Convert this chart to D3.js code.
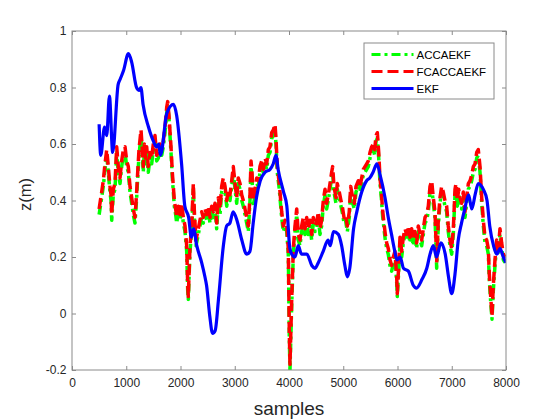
<!DOCTYPE html>
<html>
<head>
<meta charset="utf-8">
<script src="https://cdn.jsdelivr.net/npm/d3@7"></script>
<style>
html,body{margin:0;padding:0;background:#fff;}
svg{display:block;}
</style>
</head>
<body>
<svg id="chart" width="560" height="420"></svg>
<script>
// ---------- data ----------
const xTickValues = [0,1000,2000,3000,4000,5000,6000,7000,8000];
const xTickLabels = ["0","1000","2000","3000","4000","5000","6000","7000","8000"];
const yTickValues = [-0.2,0,0.2,0.4,0.6,0.8,1];
const yTickLabels = ["-0.2","0","0.2","0.4","0.6","0.8","1"];
const seriesNames = ["ACCAEKF","FCACCAEKF","EKF"];
const xLabel = "samples";
const yLabel = "z(m)";

const filterSamples = [
500,547,577,608,640,669,700,719,732,761,
793,824,853,885,916,946,977,1008,1038,1069,
1100,1130,1161,1189,1211,1235,1272,1296,1314,1333,
1355,1377,1406,1438,1469,1499,1530,1561,1591,1622,
1653,1683,1714,1746,1764,1788,1825,1849,1886,1911,
1930,1959,1991,2022,2052,2083,2114,2133,2144,2175,
2206,2236,2258,2286,2328,2359,2391,2420,2452,2483,
2513,2544,2575,2605,2636,2667,2697,2728,2759,2789,
2821,2852,2881,2912,2944,2973,3005,3036,3065,3097,
3128,3158,3189,3220,3250,3281,3300,3318,3342,3373,
3405,3434,3465,3496,3527,3558,3589,3619,3650,3681,
3711,3742,3760,3784,3821,3847,3865,3895,3927,3958,
3987,4006,4018,4050,4080,4111,4142,4171,4203,4234,
4264,4295,4326,4355,4387,4418,4448,4479,4510,4540,
4571,4602,4632,4664,4694,4724,4756,4786,4805,4829,
4866,4890,4927,4958,4990,5014,5042,5075,5111,5137,
5174,5204,5235,5278,5309,5340,5370,5401,5432,5462,
5493,5524,5554,5580,5604,5628,5654,5677,5702,5728,
5751,5775,5801,5830,5861,5893,5923,5954,5985,5996,
6022,6046,6077,6107,6138,6169,6199,6230,6261,6291,
6322,6353,6383,6415,6446,6476,6507,6538,6568,6599,
6630,6660,6691,6709,6722,6752,6783,6814,6844,6875,
6906,6936,6968,6999,7029,7060,7078,7103,7128,7152,
7183,7213,7244,7275,7306,7337,7368,7398,7429,7460,
7489,7521,7552,7582,7613,7644,7674,7692,7718,7742,
7766,7797,7828,7858,7889,7920,7951,7982
];

const accaekf = [
.35,.41,.45,.51,.56,.50,.43,.40,.33,.42,
.44,.57,.50,.46,.52,.56,.57,.52,.50,.43,
.39,.35,.32,.40,.48,.56,.63,.56,.50,.58,
.53,.57,.50,.55,.53,.58,.61,.54,.55,.58,
.56,.59,.64,.71,.74,.69,.57,.48,.38,.35,
.32,.36,.33,.37,.32,.29,.22,.08,.05,.22,
.29,.44,.33,.24,.28,.31,.34,.32,.35,.33,
.36,.32,.36,.34,.37,.30,.39,.35,.43,.46,
.43,.38,.42,.40,.45,.50,.44,.39,.46,.44,
.40,.38,.35,.32,.29,.40,.52,.48,.38,.42,
.46,.45,.50,.52,.49,.53,.51,.56,.57,.62,
.63,.65,.60,.50,.44,.38,.34,.29,.31,.29,
.21,-.09,-.20,.03,.21,.29,.35,.26,.24,.29,
.32,.28,.32,.28,.31,.26,.32,.29,.30,.34,
.28,.31,.38,.42,.37,.40,.44,.48,.50,.43,
.39,.44,.41,.38,.35,.32,.33,.29,.34,.43,
.39,.37,.43,.45,.43,.46,.49,.50,.51,.52,
.55,.57,.58,.56,.61,.62,.55,.46,.41,.34,
.30,.26,.23,.21,.17,.15,.18,.20,.11,.06,
.15,.25,.20,.25,.28,.26,.29,.25,.28,.24,
.27,.23,.29,.26,.24,.28,.32,.33,.36,.43,
.45,.39,.34,.24,.16,.31,.39,.43,.41,.38,
.36,.29,.24,.21,.28,.42,.44,.38,.42,.39,
.37,.41,.34,.39,.44,.45,.47,.50,.51,.55,
.56,.50,.39,.31,.25,.24,.21,.12,.04,-.02,
.08,.17,.24,.21,.28,.23,.19,.18
];

const fcaccaekf = [
.37,.43,.47,.53,.58,.52,.45,.42,.35,.44,
.46,.59,.52,.48,.54,.58,.59,.54,.52,.45,
.41,.37,.34,.42,.50,.58,.65,.58,.52,.60,
.55,.59,.52,.57,.55,.60,.63,.56,.57,.60,
.58,.61,.66,.73,.75,.70,.59,.50,.40,.37,
.34,.38,.35,.39,.34,.31,.24,.10,.06,.24,
.31,.46,.35,.26,.30,.33,.36,.34,.37,.35,
.38,.34,.38,.36,.39,.32,.41,.37,.45,.48,
.45,.40,.44,.42,.47,.52,.46,.41,.48,.46,
.42,.40,.37,.34,.31,.42,.54,.50,.40,.44,
.48,.47,.52,.54,.51,.55,.53,.58,.59,.64,
.65,.67,.62,.52,.46,.40,.36,.31,.33,.31,
.23,-.07,-.18,.05,.23,.31,.37,.28,.26,.31,
.34,.30,.34,.30,.33,.28,.34,.31,.32,.36,
.30,.33,.40,.44,.39,.42,.46,.50,.52,.45,
.41,.46,.43,.40,.37,.34,.35,.31,.36,.45,
.41,.39,.45,.47,.45,.48,.51,.52,.53,.54,
.57,.59,.60,.58,.63,.64,.57,.48,.43,.36,
.32,.28,.25,.23,.19,.17,.20,.22,.13,.07,
.17,.27,.22,.27,.30,.28,.31,.27,.30,.26,
.29,.25,.31,.28,.26,.30,.34,.35,.38,.45,
.47,.41,.36,.26,.18,.33,.41,.45,.43,.40,
.38,.31,.26,.23,.30,.44,.46,.40,.44,.41,
.39,.43,.36,.41,.46,.47,.49,.52,.53,.57,
.58,.52,.41,.33,.27,.26,.23,.14,.06,-.01,
.10,.19,.26,.23,.30,.25,.21,.20
];

const ekfSamples = [
500,530,600,640,690,750,850,890,950,1040,
1100,1190,1240,1270,1310,1410,1500,1560,1600,1630,
1750,1870,1930,2020,2080,2150,2200,2240,2300,2390,
2450,2480,2540,2590,2640,2700,2790,2850,2910,2970,
3040,3130,3220,3280,3340,3400,3470,3560,3650,3710,
3760,3800,3900,3960,4010,4050,4110,4170,4230,4330,
4420,4480,4540,4630,4720,4760,4820,4910,4970,5030,
5075,5120,5190,5250,5340,5430,5490,5550,5620,5680,
5770,5830,5890,5950,5990,6050,6110,6200,6290,6350,
6450,6540,6600,6660,6720,6800,6880,6940,7000,7060,
7120,7180,7240,7310,7370,7430,7490,7580,7650,7700,
7770,7830,7890,7950,8000
];

const ekf = [
.67,.56,.66,.63,.77,.57,.81,.83,.86,.92,
.89,.80,.79,.80,.74,.66,.61,.59,.60,.56,
.71,.74,.70,.53,.38,.34,.27,.30,.24,.18,
.13,.10,-.01,-.07,-.06,.05,.24,.31,.32,.36,
.33,.26,.21,.22,.32,.41,.47,.50,.51,.53,
.56,.51,.43,.38,.24,.21,.20,.24,.21,.21,
.17,.16,.18,.22,.26,.24,.29,.28,.24,.17,
.13,.16,.30,.36,.43,.47,.48,.50,.53,.49,
.41,.34,.28,.22,.19,.20,.16,.15,.10,.09,
.12,.16,.21,.24,.20,.25,.21,.13,.07,.14,
.26,.32,.37,.42,.37,.42,.46,.44,.40,.31,
.24,.21,.23,.20,.18
];

// ---------- layout / style ----------
const W = 560, H = 420;
const plot = {left: 72, right: 506, top: 31, bottom: 370};
const axisColor = "#8a8a8a";
const textColor = "#262626";
const fontFamily = '"Liberation Sans", Arial, Helvetica, sans-serif';
const seriesColors = ["#00ff00", "#ff0000", "#0000ff"];
const seriesDash = ["9,4,3,4", "11,5", null];
const seriesWidth = [3.5, 3.5, 3.2];
const legendWidth = 3;

const svg = d3.select("#chart");
svg.append("rect").attr("width", W).attr("height", H).attr("fill", "#fff");

const x = d3.scaleLinear().domain([0, 8000]).range([plot.left, plot.right]);
const y = d3.scaleLinear().domain([-0.2, 1]).range([plot.bottom, plot.top]);

function styleAxis(g) {
  g.select(".domain").remove();
  g.selectAll(".tick line").attr("stroke", axisColor).attr("stroke-width", 1);
  g.selectAll(".tick text").attr("fill", textColor)
    .style("font-family", fontFamily).style("font-size", "12px");
}

svg.append("g").attr("transform", `translate(0,${plot.bottom})`)
  .call(d3.axisBottom(x).tickValues(xTickValues).tickFormat((d, i) => xTickLabels[i])
    .tickSizeInner(-4).tickSizeOuter(0).tickPadding(8.5))
  .call(styleAxis);
svg.append("g").attr("transform", `translate(0,${plot.top})`)
  .call(d3.axisTop(x).tickValues(xTickValues).tickFormat("")
    .tickSizeInner(-4).tickSizeOuter(0))
  .call(styleAxis);
svg.append("g").attr("transform", `translate(${plot.left},0)`)
  .call(d3.axisLeft(y).tickValues(yTickValues).tickFormat((d, i) => yTickLabels[i])
    .tickSizeInner(-4).tickSizeOuter(0).tickPadding(5.5))
  .call(styleAxis);
svg.append("g").attr("transform", `translate(${plot.right},0)`)
  .call(d3.axisRight(y).tickValues(yTickValues).tickFormat("")
    .tickSizeInner(-4).tickSizeOuter(0))
  .call(styleAxis);

svg.append("defs").append("clipPath").attr("id", "plotClip")
  .append("rect").attr("x", plot.left).attr("y", plot.top)
  .attr("width", plot.right - plot.left).attr("height", plot.bottom - plot.top);

const line = d3.line().x(d => x(d[0])).y(d => y(d[1]));
const smoothLine = d3.line().x(d => x(d[0])).y(d => y(d[1])).curve(d3.curveMonotoneX);

const series = [
  {name: seriesNames[0], pts: filterSamples.map((s, i) => [s, accaekf[i]]), gen: line},
  {name: seriesNames[1], pts: filterSamples.map((s, i) => [s, fcaccaekf[i]]), gen: line},
  {name: seriesNames[2], pts: ekfSamples.map((s, i) => [s, ekf[i]]), gen: smoothLine}
];

const lines = svg.append("g").attr("clip-path", "url(#plotClip)");
series.forEach((s, k) => {
  const p = lines.append("path")
    .attr("d", s.gen(s.pts.filter(d => d[1] !== undefined)))
    .attr("fill", "none")
    .attr("stroke", seriesColors[k])
    .attr("stroke-width", seriesWidth[k])
    .attr("stroke-linejoin", "round");
  if (seriesDash[k]) p.attr("stroke-dasharray", seriesDash[k]);
});

svg.append("rect").attr("x", plot.left).attr("y", plot.top)
  .attr("width", plot.right - plot.left).attr("height", plot.bottom - plot.top)
  .attr("fill", "none").attr("stroke", axisColor).attr("stroke-width", 1);

svg.append("text").attr("x", (plot.left + plot.right) / 2).attr("y", 415)
  .attr("text-anchor", "middle").attr("fill", textColor)
  .style("font-family", fontFamily).style("font-size", "19px").text(xLabel);
svg.append("text").attr("transform", "translate(31,194.5) rotate(-90)")
  .attr("text-anchor", "middle").attr("fill", textColor)
  .style("font-family", fontFamily).style("font-size", "16.5px").text(yLabel);

const legend = svg.append("g");
legend.append("rect").attr("x", 364).attr("y", 43).attr("width", 130).attr("height", 56)
  .attr("fill", "#fff").attr("stroke", axisColor).attr("stroke-width", 1);
seriesNames.forEach((name, k) => {
  const cy = 54.5 + k * 17;
  const l = legend.append("line").attr("x1", 371.5).attr("x2", 413.5)
    .attr("y1", cy).attr("y2", cy)
    .attr("stroke", seriesColors[k]).attr("stroke-width", legendWidth);
  if (seriesDash[k]) l.attr("stroke-dasharray", seriesDash[k]);
  legend.append("text").attr("x", 416.5).attr("y", cy).attr("dy", "0.35em")
    .attr("fill", "#000").style("font-family", fontFamily).style("font-size", "11.5px")
    .text(name);
});
</script>
</body>
</html>
